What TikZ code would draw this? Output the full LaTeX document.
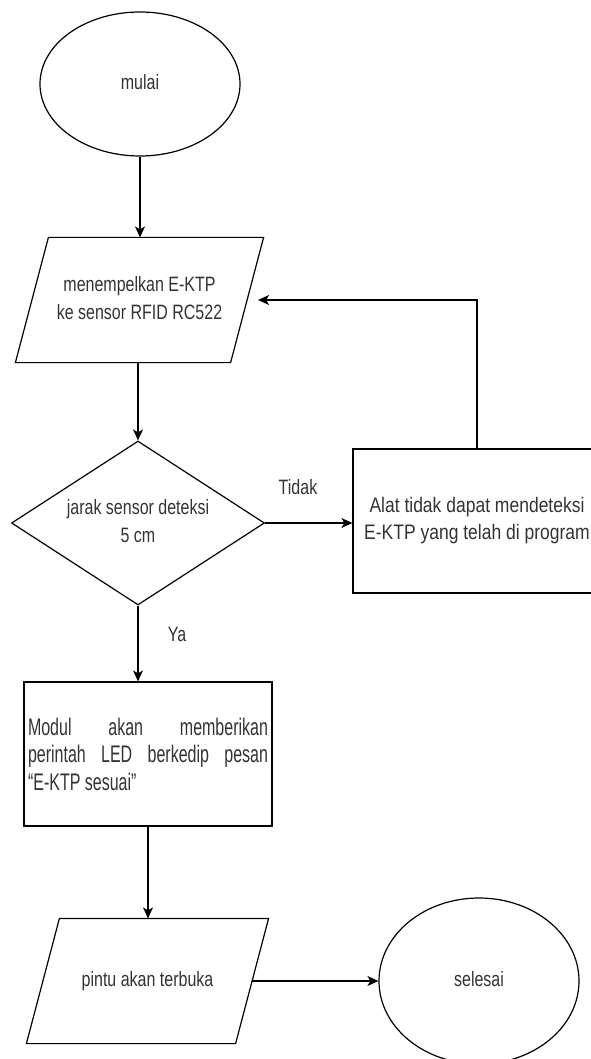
\documentclass[tikz,border=0pt]{standalone}
\usepackage{fontspec}
\setmainfont{Liberation Sans}
\usepackage{graphicx}
\usetikzlibrary{shapes.geometric}
\usetikzlibrary{arrows.meta}
\newcommand{\tallt}[2][1.3]{\scalebox{1}[#1]{\begin{tabular}{@{}c@{}}#2\end{tabular}}}
\newcommand{\jajargenjang}[1]{\draw ([xshift=16.5pt]#1.north west)
    -- ([xshift=16.5pt]#1.north east) -- ([xshift=-16.5pt]#1.south east)
    -- ([xshift=-16.5pt]#1.south west) -- cycle;}

\begin{document}
\begin{tikzpicture}[x=1pt, y=-1pt, line width=1.2pt,
    every node/.style={text=black!80, font=\fontsize{16}{21}\selectfont},
    terminal/.style={draw=black, ellipse, minimum width=200pt, inner sep=0pt},
    inout/.style={rectangle, minimum height=124pt, inner sep=0pt},
    prosesbox/.style={draw=black, rectangle, minimum width=248pt,
        minimum height=144pt, inner sep=0pt},
    arr/.style={-{Stealth[length=11pt, width=10pt, inset=3pt]}}]
    \useasboundingbox (0,0) rectangle (590,1059);

    \node[terminal, minimum height=144pt] (mulai) at (140,84) {\tallt{mulai}};
    \node[inout, minimum width=214pt] (tempel) at (139.5,300)
        {\tallt{menempelkan E-KTP\\ke sensor RFID RC522}};
    \jajargenjang{tempel}
    \node[draw=black, diamond, aspect=1.54, inner sep=0pt,
        minimum width=253pt, minimum height=164pt] (jarak) at (138,523)
        {\tallt{jarak sensor deteksi\\5 cm}};
    \node[prosesbox, font=\fontsize{17.5}{22.5}\selectfont] (gagal) at (477,521)
        {\tallt[1.2]{Alat tidak dapat mendeteksi\\
        E-KTP yang telah di program}};
    \node[prosesbox] (modul) at (148,754)
        {\scalebox{1}[1.5]{\parbox{240pt}{\fontsize{16}{18.3}\selectfont
        Modul\hfill akan\hfill memberikan\\
        perintah\hfill LED\hfill berkedip\hfill pesan\\
        “E-KTP sesuai”}}};
    \node[inout, minimum width=208pt] (pintu) at (147.5,981)
        {\tallt{pintu akan terbuka}};
    \jajargenjang{pintu}
    \node[terminal, minimum height=166pt] (selesai) at (479,981) {\tallt{selesai}};

    \node (tidak) at (298,489) {\tallt{Tidak}};
    \node (ya) at (177,636) {\tallt{Ya}};

    \draw[arr] (mulai.south) -- (mulai.south |- tempel.north);
    \draw[arr] (jarak.north |- tempel.south) -- (jarak.north);
    \draw[arr] (jarak.east) -- (jarak.east -| gagal.west);
    \draw[arr] (gagal.north) |- ([xshift=11pt]tempel.east);
    \draw[arr] (jarak.south) -- (jarak.south |- modul.north);
    \draw[arr] (modul.south) -- (modul.south |- pintu.north);
    \draw[arr] (pintu.east) -- (pintu.east -| selesai.west);
\end{tikzpicture}
\end{document}
